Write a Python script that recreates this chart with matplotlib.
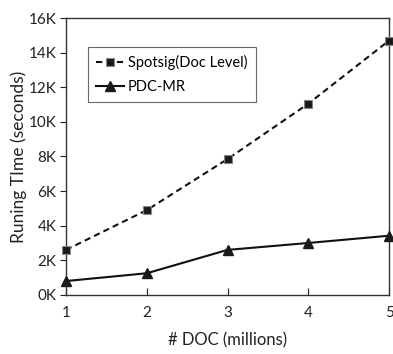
import matplotlib.pyplot as plt
from matplotlib.ticker import FuncFormatter

plt.rcParams['font.family'] = ['Lato', 'DejaVu Sans']

docs = [1, 2, 3, 4, 5]
spotsig = [2600, 4900, 7850, 11050, 14700]
pdc_mr = [800, 1250, 2600, 3000, 3420]

fig = plt.figure(figsize=(3.93, 3.54), dpi=100)
ax = fig.add_axes([0.168, 0.167, 0.822, 0.782])

ax.plot(docs, spotsig, '--', color='#111111', lw=1.5, dashes=(3, 2),
        marker='s', ms=6, mfc='#1a1a1a', mec='#888888', mew=0.8,
        label='Spotsig(Doc Level)', clip_on=False, zorder=3)
ax.plot(docs, pdc_mr, '-', color='#111111', lw=1.5,
        marker='^', ms=7, mfc='#1a1a1a', mec='#1a1a1a',
        label='PDC-MR', clip_on=False, zorder=3)

ax.set_xlim(1, 5)
ax.set_ylim(0, 16000)
ax.set_xticks(docs)
ax.set_yticks(range(0, 16001, 2000))
ax.yaxis.set_major_formatter(FuncFormatter(lambda v, p: f'{int(v/1000)}K'))
ax.tick_params(axis='x', direction='in', length=5, pad=8, labelsize=11, colors='#222222')
ax.tick_params(axis='y', direction='out', length=4, pad=3, labelsize=11, colors='#222222')
for s in ax.spines.values():
    s.set_color('#333333')
    s.set_linewidth(1)

ax.set_xlabel('# DOC (millions)', fontsize=12, labelpad=9, color='#222222')
ax.set_ylabel('Runing TIme (seconds)', fontsize=12.5, labelpad=1, color='#222222')

leg = ax.legend(loc='upper left', bbox_to_anchor=(0.068, 0.895), fontsize=10.5,
                frameon=True, fancybox=False, edgecolor='#444444',
                handlelength=1.9, handletextpad=0.3, borderpad=0.55,
                labelspacing=0.7, borderaxespad=0)
leg.get_frame().set_linewidth(0.8)

fig.savefig('out.png', dpi=100)
